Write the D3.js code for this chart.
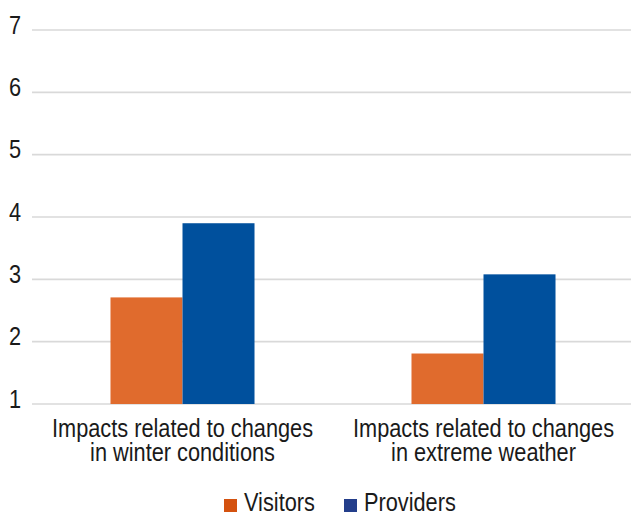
<!DOCTYPE html>
<html>
<head>
<meta charset="utf-8">
<script src="https://cdn.jsdelivr.net/npm/d3@7"></script>
<style>
  html, body { margin: 0; padding: 0; background: #fff; }
  svg { display: block; }
  text { font-family: "Liberation Sans", Arial, sans-serif; fill: #1a1a1a; }
</style>
</head>
<body>
<svg id="chart" width="631" height="514"></svg>
<script>
// Categories and survey scores (mean on a 1–7 scale)
const categories = [
  ["Impacts related to changes", "in winter conditions"],
  ["Impacts related to changes", "in extreme weather"]
];
const seriesNames = ["Visitors", "Providers"];
const visitors = [2.71, 1.81];
const providers = [3.90, 3.08];
const yTicks = [1, 2, 3, 4, 5, 6, 7];

const barColors = ["#E06B2D", "#00509D"];
const legendColors = ["#D4520F", "#233E8B"];

// Condensed look: regular face squeezed horizontally
const FONT_SIZE = 25;
const SQUEEZE = 0.87;

const svg = d3.select("#chart");
const W = 631;
const left = 32, right = 634;

const x0 = d3.scaleBand()
  .domain(d3.range(categories.length))
  .range([left, right])
  .paddingInner(0)
  .paddingOuter(0);

const x1 = d3.scaleBand()
  .domain(seriesNames)
  .range([0, x0.bandwidth()])
  .paddingInner(0)
  .paddingOuter(1.09);

const y = d3.scaleLinear()
  .domain([1, 7])
  .range([404, 30]);

// Gridlines
svg.append("g")
  .selectAll("line")
  .data(yTicks)
  .join("line")
  .attr("x1", left)
  .attr("x2", W)
  .attr("y1", d => y(d))
  .attr("y2", d => y(d))
  .attr("stroke", "#d9d9d9")
  .attr("stroke-width", 1.6);

// Y axis labels
const yAxis = d3.axisLeft(y).tickValues(yTicks).tickSize(0).tickPadding(0).tickFormat(d3.format("d"));
const gy = svg.append("g").attr("transform", "translate(21,0)").call(yAxis);
gy.select(".domain").remove();
gy.attr("font-family", null).attr("font-size", null);
gy.selectAll("text")
  .attr("font-size", FONT_SIZE)
  .attr("fill", "#1a1a1a")
  .attr("text-anchor", "end")
  .attr("x", 0)
  .attr("dy", "0.12em")
  .attr("transform", `scale(${SQUEEZE},1)`);

// Bars
const rows = categories.map((c, i) => ({ i, values: [visitors[i], providers[i]] }));
const groups = svg.append("g").selectAll("g")
  .data(rows)
  .join("g")
  .attr("transform", d => `translate(${x0(d.i)},0)`);

groups.selectAll("rect")
  .data(d => d.values.map((v, k) => ({ key: seriesNames[k], v, k })))
  .join("rect")
  .attr("x", d => x1(d.key))
  .attr("width", x1.bandwidth())
  .attr("y", d => y(d.v))
  .attr("height", d => y(1) - y(d.v))
  .attr("fill", d => barColors[d.k]);

// Category labels
const catLabels = svg.append("g").selectAll("g")
  .data(categories)
  .join("g")
  .attr("transform", (d, i) => `translate(${x0(i) + x0.bandwidth() / 2},437) scale(${SQUEEZE},1)`)
  .append("text")
  .attr("text-anchor", "middle")
  .attr("font-size", FONT_SIZE);
catLabels.selectAll("tspan")
  .data(d => d)
  .join("tspan")
  .attr("x", 0)
  .attr("dy", (d, j) => j === 0 ? 0 : 24.5)
  .text(d => d);

// Legend
const legendItems = [
  { name: seriesNames[0], color: legendColors[0], x: 224 },
  { name: seriesNames[1], color: legendColors[1], x: 344 }
];
const lg = svg.append("g").selectAll("g")
  .data(legendItems)
  .join("g")
  .attr("transform", d => `translate(${d.x},0)`);
lg.append("rect")
  .attr("x", 0).attr("y", 499)
  .attr("width", 13).attr("height", 13)
  .attr("fill", d => d.color);
lg.append("g")
  .attr("transform", `translate(20,511) scale(${SQUEEZE},1)`)
  .append("text")
  .attr("font-size", FONT_SIZE)
  .text(d => d.name);
</script>
</body>
</html>
